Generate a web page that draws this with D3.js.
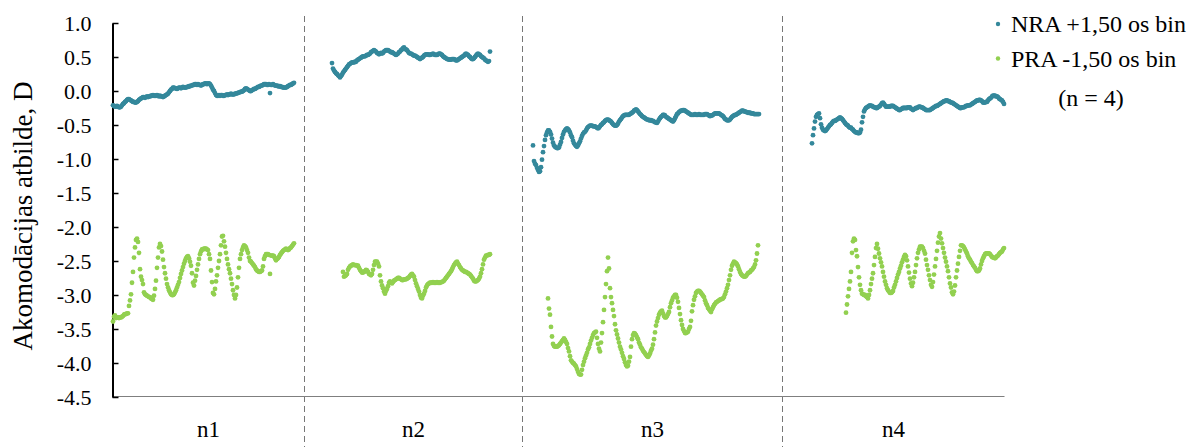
<!DOCTYPE html>
<html>
<head>
<meta charset="utf-8">
<script src="https://cdn.jsdelivr.net/npm/d3@7"></script>
<style>
  html, body { margin: 0; padding: 0; background: #fff; }
  svg { display: block; }
  text { font-family: "Liberation Serif", "Times New Roman", serif; fill: #000; }
</style>
</head>
<body>
<svg id="chart" width="1199" height="447"></svg>
<script>
// blank reading
const _ = null;

const categories = ["n1", "n2", "n3", "n4"];
// number of reading slots in each subject block
const groupSlots = [192, 218, 260, 222];
const seriesNames = ["NRA +1,50 os bin", "PRA -1,50 os bin"];
const seriesColors = ["#34889b", "#92d050"];
const legendNote = "(n = 4)";
const yTicks = [1.0, 0.5, 0.0, -0.5, -1.0, -1.5, -2.0, -2.5, -3.0, -3.5, -4.0, -4.5];
const yTitle = "Akomodācijas atbilde, D";

// accommodative response, D — NRA +1,50
const nraN1 = [
  -0.21,-0.22,-0.23,-0.23,-0.22,-0.23,-0.24,-0.24,-0.23,-0.21,
  -0.19,-0.18,-0.16,-0.15,-0.13,-0.12,-0.12,-0.13,-0.14,-0.15,
  -0.16,-0.16,-0.17,-0.17,-0.16,-0.15,-0.13,-0.12,-0.11,-0.10,
  -0.09,-0.09,-0.10,-0.09,-0.08,-0.09,-0.08,-0.08,-0.07,-0.07,
  -0.06,-0.07,-0.07,-0.07,-0.06,-0.07,-0.08,-0.07,-0.08,-0.08,
  -0.09,-0.08,-0.07,-0.06,-0.05,-0.04,-0.02,0.00,0.02,0.03,
  0.05,0.05,0.04,0.04,0.03,0.04,0.05,0.05,0.04,0.05,
  0.06,0.05,0.05,0.05,0.06,0.06,0.07,0.07,0.08,0.08,
  0.09,0.09,0.10,0.10,0.09,0.10,0.09,0.09,0.08,0.09,
  0.10,0.10,0.11,0.11,0.10,0.11,0.11,0.10,0.08,0.05,
  0.02,0.00,-0.03,-0.06,-0.07,-0.07,-0.06,-0.07,-0.06,-0.06,
  -0.07,-0.07,-0.06,-0.06,-0.05,-0.06,-0.05,-0.05,-0.04,-0.05,
  -0.05,-0.05,-0.04,-0.04,-0.03,-0.03,-0.02,-0.02,-0.01,-0.01,
  0.00,0.01,0.03,0.04,0.03,0.02,0.01,0.00,0.00,0.01,
  0.02,0.03,0.03,0.04,0.05,0.06,0.06,0.07,0.08,0.08,
  0.09,0.10,0.10,0.10,0.09,0.09,0.10,-0.03,0.09,0.09,
  0.10,0.09,0.08,0.08,0.08,0.07,0.07,0.07,0.06,0.06,
  0.05,0.05,0.05,0.05,0.06,0.07,0.08,0.09,0.09,0.10,
  0.11,0.12,
  _,_,_,_,_,_,_,_,_,_
];
const nraN2 = [
  _,_,_,_,_,_,_,_,_,_,
  _,_,_,_,_,_,_,_,_,_,
  _,_,_,_,_,_,_,
  0.41,0.33,0.30,0.28,0.26,0.25,0.23,0.22,0.20,0.22,
  0.24,0.27,0.29,0.31,0.33,0.35,0.37,0.39,0.40,0.41,
  0.42,0.42,0.42,0.43,0.43,0.45,0.46,0.47,0.48,0.49,
  0.50,0.51,0.51,0.51,0.52,0.53,0.53,0.54,0.55,0.57,
  0.58,0.59,0.60,0.59,0.58,0.56,0.55,0.54,0.55,0.56,
  0.55,0.56,0.58,0.59,0.60,0.60,0.60,0.59,0.58,0.57,
  0.57,0.56,0.55,0.54,0.53,0.54,0.55,0.57,0.58,0.60,
  0.61,0.63,0.64,0.62,0.61,0.60,0.58,0.56,0.55,0.55,
  0.54,0.53,0.52,0.52,0.51,0.50,0.49,0.48,0.47,0.48,
  0.49,0.50,0.52,0.53,0.54,0.54,0.54,0.53,0.53,0.54,
  0.54,0.55,0.54,0.53,0.53,0.53,0.54,0.55,0.55,0.54,
  0.53,0.51,0.50,0.49,0.48,0.47,0.47,0.46,0.46,0.46,
  0.47,0.47,0.47,0.46,0.45,0.45,0.46,0.47,0.48,0.49,
  0.50,0.51,0.52,0.54,0.55,0.54,0.53,0.51,0.50,0.48,
  0.47,0.47,0.48,0.50,0.52,0.54,0.55,0.54,0.53,0.51,
  0.50,0.49,0.48,0.46,0.45,0.44,0.43,0.44,0.58,
  _,_,_,_,_,_,_,_,_,_,
  _,_,_,_,_,_,_,_,_,_,
  _,_,_,_,_,_,_,_,_,_,
  _,_
];
const nraN3 = [
  _,_,_,_,_,_,_,_,_,_,
  -0.80,-1.03,-1.07,-1.09,-1.13,-1.16,-1.19,-1.18,-1.12,-1.01,
  -0.90,-0.81,-0.72,-0.65,-0.61,-0.58,-0.58,-0.60,-0.64,-0.70,
  -0.76,-0.80,-0.82,-0.83,-0.84,-0.84,-0.83,-0.79,-0.75,-0.69,
  -0.64,-0.60,-0.58,-0.56,-0.55,-0.56,-0.58,-0.61,-0.65,-0.68,
  -0.73,-0.77,-0.79,-0.81,-0.82,-0.80,-0.77,-0.74,-0.70,-0.66,
  -0.63,-0.61,-0.60,-0.58,-0.55,-0.53,-0.52,-0.51,-0.51,-0.51,
  -0.52,-0.52,-0.52,-0.53,-0.54,-0.55,-0.54,-0.52,-0.50,-0.49,
  -0.47,-0.46,-0.44,-0.43,-0.42,-0.42,-0.43,-0.44,-0.45,-0.47,
  -0.49,-0.50,-0.51,-0.51,-0.50,-0.48,-0.45,-0.43,-0.41,-0.39,
  -0.37,-0.36,-0.35,-0.35,-0.35,-0.35,-0.35,-0.34,-0.33,-0.32,
  -0.31,-0.29,-0.28,-0.27,-0.28,-0.30,-0.32,-0.34,-0.35,-0.37,
  -0.38,-0.39,-0.40,-0.41,-0.42,-0.42,-0.43,-0.43,-0.43,-0.44,
  -0.44,-0.45,-0.46,-0.46,-0.47,-0.45,-0.42,-0.40,-0.38,-0.37,
  -0.35,-0.35,-0.36,-0.38,-0.39,-0.40,-0.41,-0.42,-0.43,-0.44,
  -0.45,-0.43,-0.40,-0.37,-0.34,-0.33,-0.31,-0.30,-0.29,-0.29,
  -0.28,-0.28,-0.29,-0.30,-0.31,-0.32,-0.33,-0.34,-0.35,-0.35,
  -0.35,-0.35,-0.34,-0.35,-0.35,-0.35,-0.34,-0.35,-0.35,-0.35,
  -0.35,-0.35,-0.34,-0.34,-0.34,-0.35,-0.36,-0.37,-0.36,-0.36,
  -0.35,-0.34,-0.33,-0.33,-0.33,-0.33,-0.33,-0.34,-0.35,-0.36,
  -0.37,-0.39,-0.41,-0.42,-0.43,-0.43,-0.43,-0.42,-0.40,-0.38,
  -0.37,-0.36,-0.35,-0.35,-0.34,-0.33,-0.32,-0.31,-0.30,-0.29,
  -0.29,-0.30,-0.30,-0.31,-0.31,-0.32,-0.32,-0.32,-0.33,-0.33,
  -0.33,-0.34,-0.34,-0.34,-0.34,-0.34,-0.34,
  _,_,_,_,_,_,_,_,_,_,
  _,_,_,_,_,_,_,_,_,_,
  _,_,_
];
const nraN4 = [
  _,_,_,_,_,_,_,_,_,_,
  _,_,_,_,_,_,_,_,_,_,
  _,_,_,_,_,_,_,_,_,
  -0.77,-0.65,-0.55,-0.45,-0.38,-0.35,-0.34,-0.33,-0.40,-0.49,
  -0.54,-0.57,-0.58,-0.59,-0.58,-0.56,-0.54,-0.52,-0.50,-0.49,
  -0.47,-0.45,-0.44,-0.44,-0.43,-0.42,-0.41,-0.40,-0.39,-0.40,
  -0.41,-0.43,-0.45,-0.47,-0.49,-0.50,-0.51,-0.53,-0.54,-0.54,
  -0.56,-0.57,-0.59,-0.60,-0.61,-0.61,-0.62,-0.62,-0.61,-0.57,
  -0.46,-0.38,-0.30,-0.27,-0.25,-0.24,-0.23,-0.22,-0.21,-0.22,
  -0.22,-0.23,-0.24,-0.24,-0.25,-0.25,-0.24,-0.23,-0.22,-0.20,
  -0.18,-0.17,-0.19,-0.21,-0.23,-0.23,-0.23,-0.23,-0.23,-0.22,
  -0.22,-0.22,-0.23,-0.24,-0.25,-0.26,-0.27,-0.28,-0.28,-0.27,
  -0.26,-0.25,-0.25,-0.25,-0.25,-0.25,-0.24,-0.24,-0.24,-0.26,
  -0.27,-0.28,-0.27,-0.26,-0.25,-0.25,-0.24,-0.23,-0.23,-0.24,
  -0.24,-0.25,-0.26,-0.27,-0.28,-0.28,-0.28,-0.28,-0.28,-0.27,
  -0.26,-0.25,-0.24,-0.23,-0.22,-0.22,-0.21,-0.20,-0.19,-0.18,
  -0.17,-0.16,-0.15,-0.15,-0.14,-0.14,-0.15,-0.15,-0.16,-0.17,
  -0.17,-0.18,-0.19,-0.20,-0.21,-0.22,-0.23,-0.24,-0.25,-0.25,
  -0.24,-0.24,-0.24,-0.23,-0.22,-0.22,-0.21,-0.21,-0.21,-0.20,
  -0.19,-0.18,-0.17,-0.16,-0.15,-0.14,-0.14,-0.13,-0.13,-0.14,
  -0.15,-0.17,-0.17,-0.17,-0.16,-0.16,-0.14,-0.12,-0.11,-0.10,
  -0.08,-0.07,-0.07,-0.07,-0.08,-0.08,-0.09,-0.11,-0.12,-0.13,
  -0.14,-0.16,-0.19
];

// accommodative response, D — PRA -1,50
const praN1 = [
  -3.39,-3.32,-3.30,-3.34,-3.33,-3.33,-3.34,-3.33,-3.33,-3.32,
  -3.31,-3.29,-3.28,-3.28,-3.27,-3.27,-3.16,-3.08,-2.99,-2.82,
  -2.66,-2.45,-2.30,-2.19,-2.17,-2.22,-2.38,-2.62,-2.73,-2.78,
  -2.84,-2.96,-2.99,-3.00,-3.01,-3.02,-3.03,-3.03,-3.05,-3.06,
  -3.07,-3.01,-2.91,-2.79,-2.60,-2.45,-2.30,-2.25,-2.28,-2.36,
  -2.48,-2.59,-2.68,-2.76,-2.84,-2.89,-2.93,-2.96,-2.99,-3.00,
  -3.00,-2.99,-2.96,-2.93,-2.89,-2.85,-2.81,-2.75,-2.69,-2.64,
  -2.59,-2.54,-2.50,-2.46,-2.44,-2.43,-2.46,-2.51,-2.57,-2.68,
  -2.82,-2.86,-2.79,-2.72,-2.63,-2.55,-2.47,-2.40,-2.36,-2.33,
  -2.33,-2.32,-2.32,-2.32,-2.33,-2.34,-2.40,-2.47,-2.64,-2.81,
  -2.97,-2.99,-2.91,-2.80,-2.71,-2.60,-2.50,-2.40,-2.27,-2.14,
  -2.13,-2.21,-2.29,-2.38,-2.47,-2.55,-2.62,-2.68,-2.76,-2.84,
  -2.93,-3.00,-3.05,-3.00,-2.89,-2.74,-2.60,-2.47,-2.40,-2.34,
  -2.30,-2.27,-2.28,-2.30,-2.34,-2.38,-2.45,-2.50,-2.51,-2.53,
  -2.55,-2.57,-2.59,-2.62,-2.64,-2.65,-2.66,-2.66,-2.65,-2.64,
  -2.58,-2.47,-2.43,-2.40,-2.40,-2.40,-2.41,-2.69,-2.42,-2.42,
  -2.42,-2.43,-2.46,-2.49,-2.47,-2.46,-2.44,-2.41,-2.39,-2.37,
  -2.35,-2.34,-2.33,-2.32,-2.33,-2.34,-2.33,-2.31,-2.30,-2.28,
  -2.26,-2.24,
  _,_,_,_,_,_,_,_,_,_
];
const praN2 = [
  _,_,_,_,_,_,_,_,_,_,
  _,_,_,_,_,_,_,_,_,_,
  _,_,_,_,_,_,_,_,_,_,
  _,_,_,_,_,_,_,_,
  -2.66,-2.73,-2.72,-2.71,-2.69,-2.63,-2.60,-2.58,-2.57,-2.56,
  -2.55,-2.56,-2.56,-2.56,-2.57,-2.57,-2.60,-2.63,-2.65,-2.67,
  -2.67,-2.66,-2.65,-2.63,-2.64,-2.66,-2.69,-2.70,-2.71,-2.69,
  -2.63,-2.56,-2.51,-2.51,-2.51,-2.54,-2.58,-2.71,-2.80,-2.86,
  -2.90,-2.95,-2.98,-2.94,-2.91,-2.87,-2.82,-2.80,-2.82,-2.83,
  -2.81,-2.79,-2.78,-2.77,-2.76,-2.75,-2.75,-2.76,-2.77,-2.78,
  -2.78,-2.77,-2.77,-2.77,-2.76,-2.75,-2.74,-2.72,-2.70,-2.69,
  -2.71,-2.73,-2.78,-2.83,-2.87,-2.91,-2.95,-3.00,-3.04,-3.05,
  -3.01,-2.98,-2.94,-2.89,-2.86,-2.84,-2.83,-2.82,-2.82,-2.82,
  -2.81,-2.82,-2.82,-2.82,-2.81,-2.82,-2.82,-2.82,-2.81,-2.81,
  -2.80,-2.79,-2.77,-2.75,-2.73,-2.71,-2.69,-2.67,-2.65,-2.62,
  -2.59,-2.56,-2.54,-2.52,-2.51,-2.54,-2.56,-2.59,-2.61,-2.63,
  -2.64,-2.65,-2.66,-2.66,-2.67,-2.68,-2.69,-2.70,-2.72,-2.74,
  -2.76,-2.79,-2.80,-2.80,-2.79,-2.78,-2.76,-2.73,-2.68,-2.62,
  -2.55,-2.48,-2.45,-2.42,-2.42,-2.41,-2.41,-2.40,
  _,_,_,_,_,_,_,_,_,_,
  _,_,_,_,_,_,_,_,_,_,
  _,_,_,_,_,_,_,_,_,_,
  _,_
];
const praN3 = [
  _,_,_,_,_,_,_,_,_,_,
  _,_,_,_,_,_,_,_,_,_,
  _,_,_,_,_,
  -3.05,-3.20,-3.29,-3.47,-3.61,-3.72,-3.75,-3.76,-3.76,-3.76,
  -3.75,-3.74,-3.72,-3.70,-3.68,-3.66,-3.64,-3.66,-3.69,-3.72,
  -3.78,-3.83,-3.90,-3.96,-3.98,-4.00,-4.01,-4.03,-4.05,-4.09,
  -4.13,-4.16,-4.17,-4.17,-4.10,-4.03,-3.98,-3.93,-3.89,-3.85,
  -3.80,-3.77,-3.72,-3.67,-3.63,-3.59,-3.56,-3.55,-3.54,-3.63,
  -3.72,-3.79,-3.83,-3.70,-3.56,-3.40,-3.22,-3.03,-2.84,-2.65,
  -2.45,-2.61,-2.90,-3.03,-3.12,-3.22,-3.31,-3.43,-3.52,-3.58,
  -3.64,-3.70,-3.76,-3.80,-3.85,-3.90,-3.94,-3.99,-4.03,-4.05,
  -4.04,-3.98,-3.91,-3.76,-3.65,-3.59,-3.56,-3.57,-3.59,-3.62,
  -3.65,-3.70,-3.73,-3.77,-3.79,-3.82,-3.84,-3.86,-3.88,-3.90,
  -3.91,-3.89,-3.86,-3.82,-3.79,-3.73,-3.65,-3.55,-3.45,-3.39,
  -3.34,-3.29,-3.26,-3.24,-3.23,-3.27,-3.31,-3.33,-3.33,-3.31,
  -3.28,-3.25,-3.18,-3.12,-3.08,-3.04,-3.02,-3.00,-3.00,-3.04,
  -3.10,-3.19,-3.28,-3.37,-3.44,-3.50,-3.53,-3.56,-3.56,-3.55,
  -3.54,-3.50,-3.47,-3.38,-3.24,-3.15,-3.07,-3.02,-2.97,-2.95,
  -2.94,-2.94,-2.95,-2.97,-2.99,-3.01,-3.03,-3.08,-3.12,-3.15,
  -3.19,-3.21,-3.23,-3.25,-3.21,-3.18,-3.15,-3.13,-3.11,-3.10,
  -3.09,-3.08,-3.07,-3.06,-3.06,-3.05,-3.03,-2.99,-2.95,-2.90,
  -2.85,-2.78,-2.71,-2.63,-2.57,-2.54,-2.51,-2.52,-2.53,-2.55,
  -2.58,-2.62,-2.66,-2.69,-2.71,-2.72,-2.73,-2.73,-2.72,-2.70,
  -2.68,-2.67,-2.66,-2.64,-2.63,-2.61,-2.59,-2.55,-2.49,-2.39,
  -2.27,
  _,_,_,_,_,_,_,_,_,_,
  _,_,_,_,_,_,_,_,_,_,
  _,_,_,_
];
const praN4 = [
  _,_,_,_,_,_,_,_,_,_,
  _,_,_,_,_,_,_,_,_,_,
  _,_,_,_,_,_,_,_,_,_,
  _,_,_,_,_,_,_,_,_,_,
  _,_,_,_,_,_,_,_,_,_,
  _,_,_,_,_,_,_,_,_,_,
  _,_,_,
  -3.26,-3.14,-3.02,-2.91,-2.80,-2.66,-2.38,-2.21,-2.17,-2.19,
  -2.34,-2.43,-2.59,-2.74,-2.85,-2.93,-2.98,-2.99,-3.00,-3.00,
  -3.02,-3.03,-3.05,-3.00,-2.93,-2.84,-2.76,-2.68,-2.56,-2.44,
  -2.31,-2.25,-2.32,-2.39,-2.46,-2.52,-2.58,-2.66,-2.73,-2.80,
  -2.85,-2.90,-2.93,-2.95,-2.97,-2.97,-2.96,-2.94,-2.89,-2.85,
  -2.80,-2.75,-2.70,-2.66,-2.61,-2.57,-2.52,-2.48,-2.44,-2.41,
  -2.43,-2.49,-2.58,-2.67,-2.76,-2.83,-2.87,-2.82,-2.74,-2.66,
  -2.56,-2.46,-2.38,-2.33,-2.29,-2.29,-2.29,-2.31,-2.35,-2.39,
  -2.48,-2.56,-2.63,-2.71,-2.78,-2.85,-2.88,-2.81,-2.70,-2.58,
  -2.47,-2.35,-2.23,-2.14,-2.09,-2.17,-2.24,-2.31,-2.38,-2.45,
  -2.51,-2.58,-2.65,-2.74,-2.83,-2.89,-2.96,-2.99,-2.95,-2.86,
  -2.74,-2.64,-2.54,-2.44,-2.35,-2.27,-2.27,-2.28,-2.30,-2.33,
  -2.36,-2.39,-2.43,-2.46,-2.48,-2.51,-2.53,-2.56,-2.58,-2.60,
  -2.63,-2.65,-2.65,-2.64,-2.61,-2.55,-2.50,-2.46,-2.43,-2.40,
  -2.39,-2.39,-2.39,-2.39,-2.40,-2.42,-2.44,-2.45,-2.45,-2.46,
  -2.45,-2.43,-2.42,-2.40,-2.38,-2.37,-2.36,-2.33,-2.31
];

const nraByGroup = [nraN1, nraN2, nraN3, nraN4];
const praByGroup = [praN1, praN2, praN3, praN4];

// ---- layout ----
const svg = d3.select("#chart");
const plot = { left: 112.5, right: 1004.5, top: 23, bottom: 397 };

const totalSlots = d3.sum(groupSlots);
const groupStart = groupSlots.map((n, i) => d3.sum(groupSlots.slice(0, i)));

const x = d3.scaleLinear().domain([0, totalSlots]).range([plot.left, plot.right]);
const y = d3.scaleLinear().domain([-4.5, 1.0]).range([plot.bottom, plot.top]);

// flatten the readings of one series into positioned points
function toPoints(byGroup) {
  const pts = [];
  byGroup.forEach((vals, g) => {
    vals.slice(0, groupSlots[g]).forEach((v, j) => {
      if (v !== null) pts.push({ slot: groupStart[g] + j + 0.5, value: v });
    });
  });
  return pts;
}
const series = [toPoints(nraByGroup), toPoints(praByGroup)];

// group dividers (dashed)
svg.append("g")
  .selectAll("line")
  .data(groupStart.slice(1))
  .join("line")
  .attr("x1", d => Math.floor(x(d)) + 0.5)
  .attr("x2", d => Math.floor(x(d)) + 0.5)
  .attr("y1", 16)
  .attr("y2", 447)
  .attr("stroke", "#767676")
  .attr("stroke-width", 1)
  .attr("stroke-dasharray", "6,4");

// horizontal category axis line
svg.append("line")
  .attr("x1", x(0)).attr("x2", x(totalSlots))
  .attr("y1", plot.bottom - 0.5).attr("y2", plot.bottom - 0.5)
  .attr("stroke", "#7f7f7f").attr("stroke-width", 1.2);

// category labels, centred in each block
svg.append("g")
  .selectAll("text")
  .data(categories)
  .join("text")
  .attr("x", (d, i) => x(groupStart[i] + groupSlots[i] / 2))
  .attr("y", 437)
  .attr("text-anchor", "middle")
  .style("font-size", "23px")
  .text(d => d);

// value axis with inward ticks
const yAxis = d3.axisLeft(y)
  .tickValues(yTicks)
  .tickFormat(d => d.toFixed(1))
  .tickSizeInner(-6)
  .tickSizeOuter(0)
  .tickPadding(21);

const yg = svg.append("g")
  .attr("transform", `translate(${plot.left},0)`)
  .call(yAxis);
yg.select(".domain").attr("stroke", "#000").attr("stroke-width", 2);
yg.selectAll(".tick line").attr("stroke", "#000").attr("stroke-width", 1.5);
yg.selectAll(".tick text")
  .style("font-family", "'Liberation Serif', 'Times New Roman', serif")
  .style("font-size", "22px")
  .attr("fill", "#000");

// value axis title
svg.append("text")
  .attr("transform", `translate(32, ${(82 + 350) / 2}) rotate(-90)`)
  .attr("text-anchor", "middle")
  .style("font-size", "27px")
  .text(yTitle);

// readings
series.forEach((pts, s) => {
  svg.append("g")
    .selectAll("circle")
    .data(pts)
    .join("circle")
    .attr("cx", d => x(d.slot))
    .attr("cy", d => y(d.value))
    .attr("r", 2.4)
    .attr("fill", seriesColors[s]);
});

// legend
const legend = svg.append("g");
seriesNames.forEach((name, i) => {
  const cy = 24 + i * 34.5;
  legend.append("circle")
    .attr("cx", 998).attr("cy", cy).attr("r", 2.2)
    .attr("fill", seriesColors[i]);
  legend.append("text")
    .attr("x", 1011).attr("y", cy + 8.3)
    .style("font-size", "24px")
    .text(name);
});
legend.append("text")
  .attr("x", 1091).attr("y", 106)
  .attr("text-anchor", "middle")
  .style("font-size", "24px")
  .text(legendNote);
</script>
</body>
</html>
